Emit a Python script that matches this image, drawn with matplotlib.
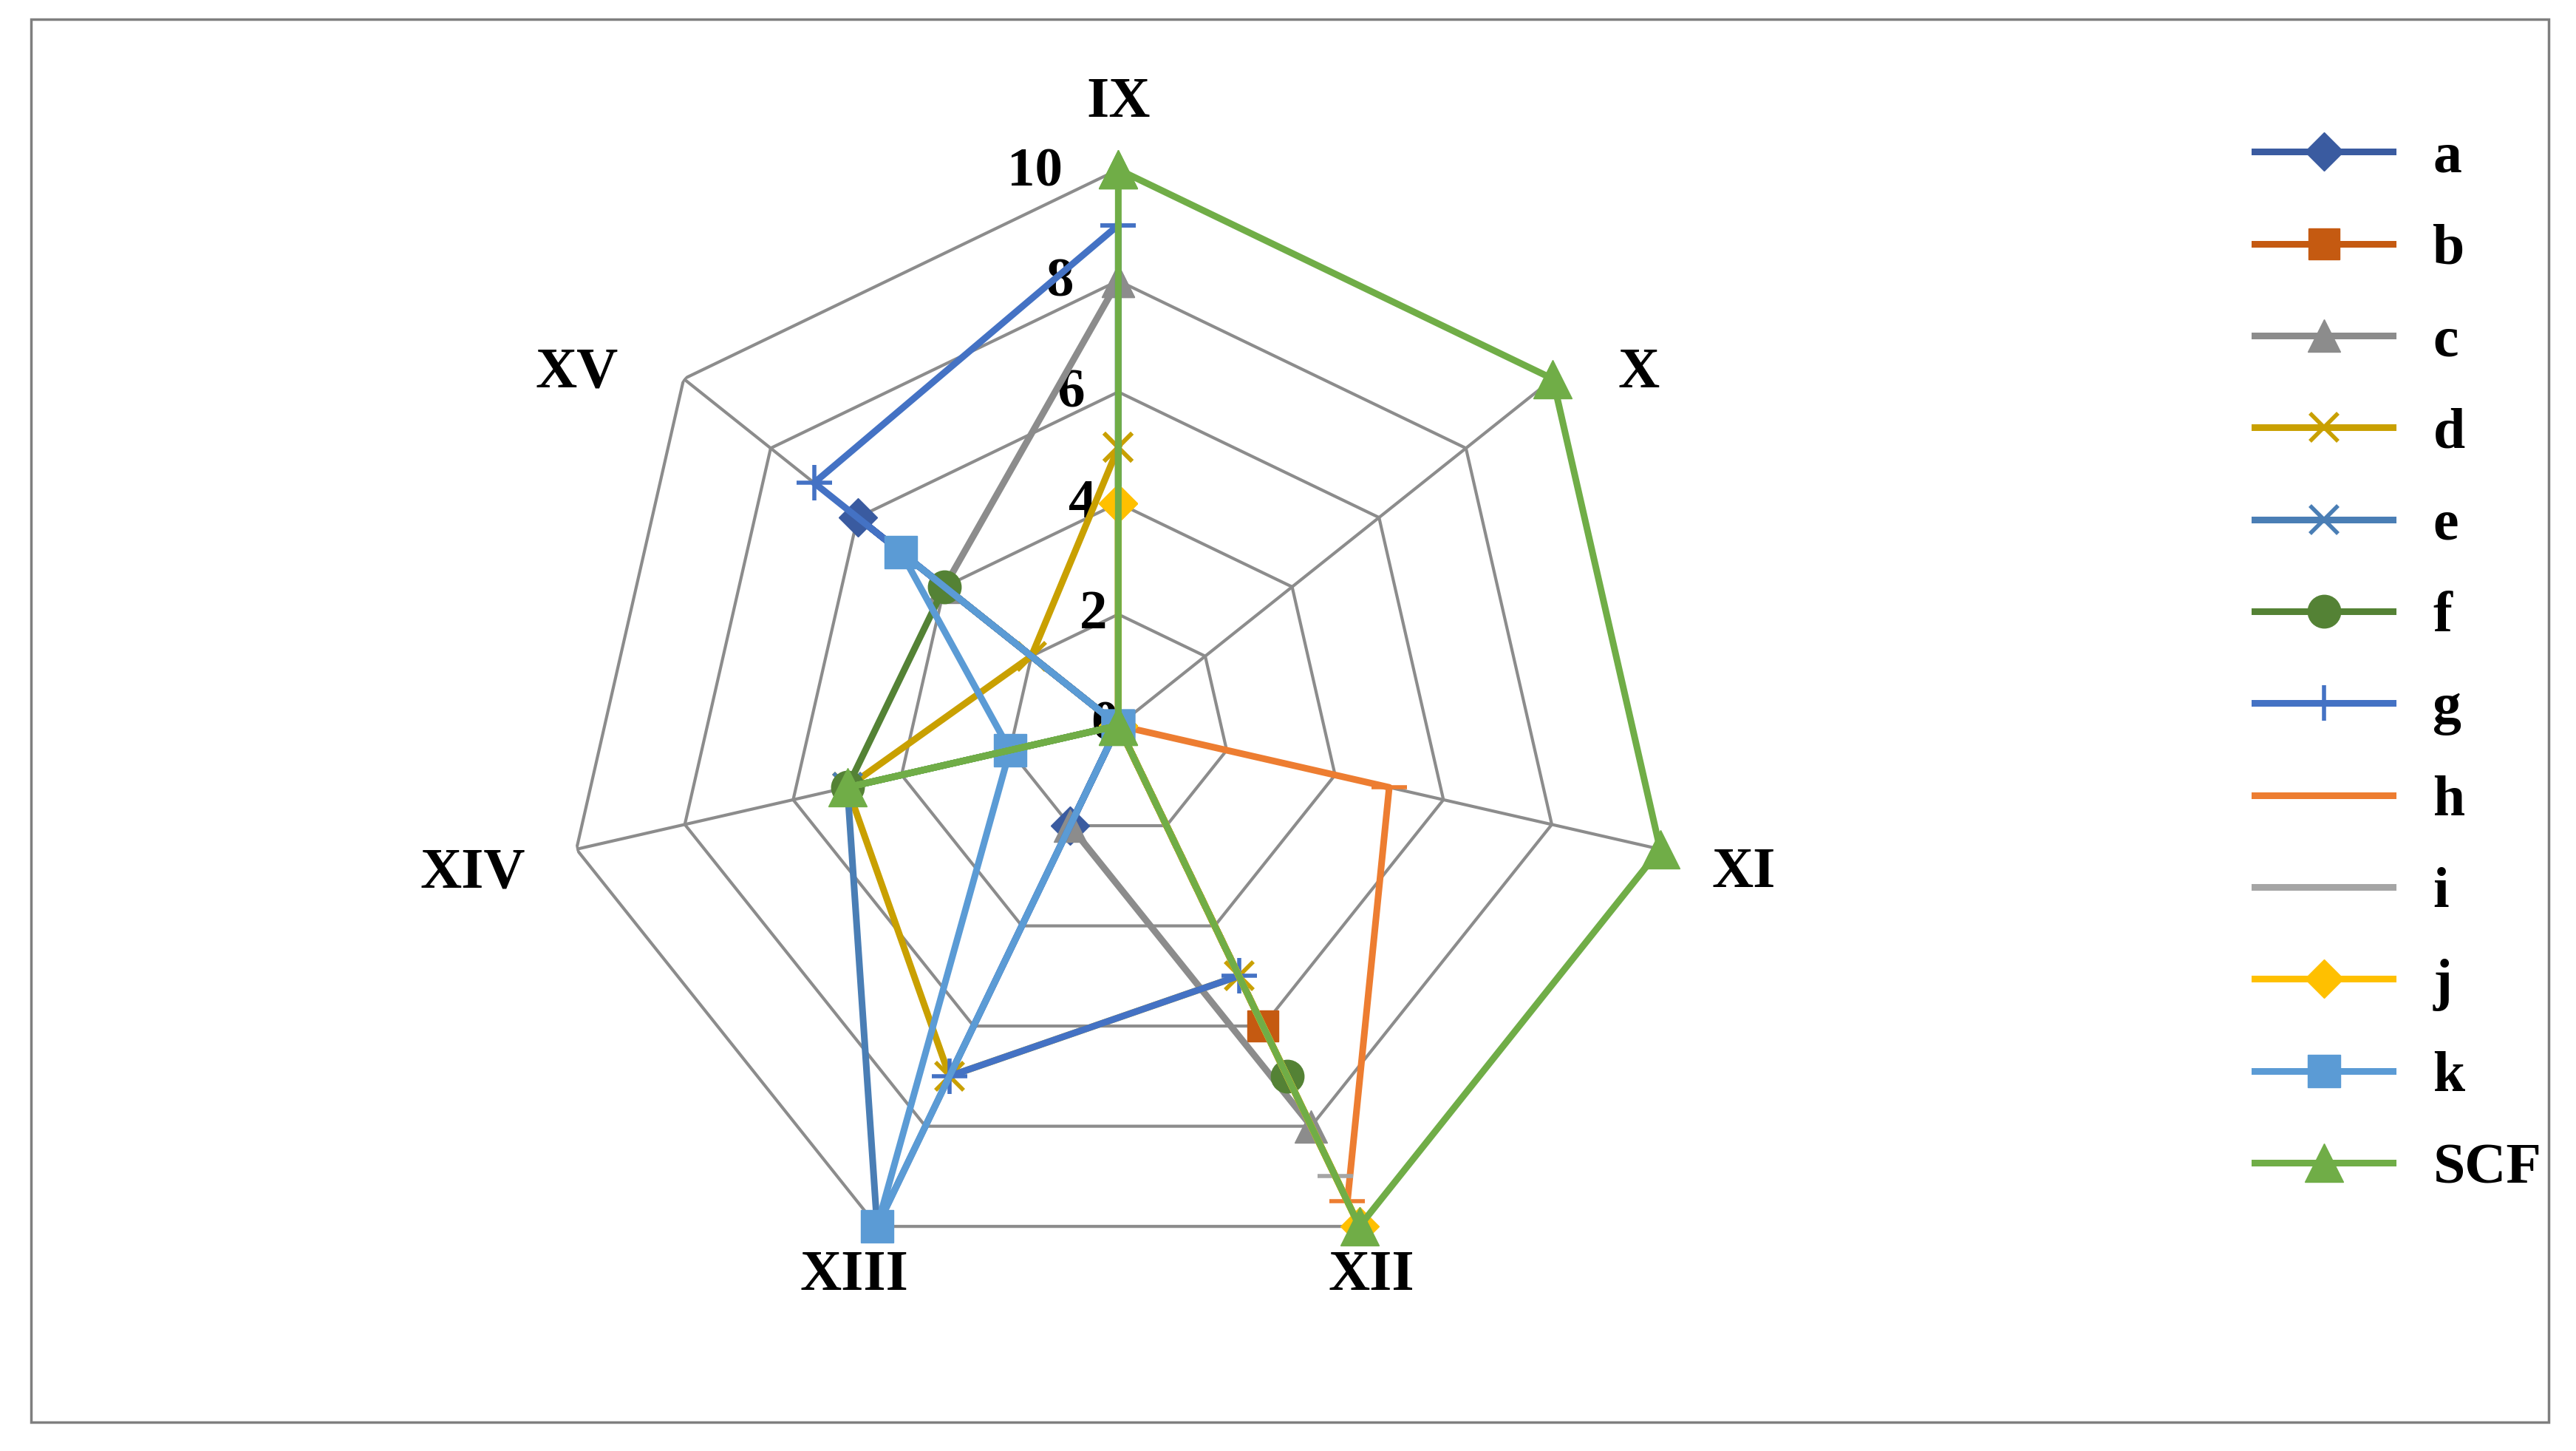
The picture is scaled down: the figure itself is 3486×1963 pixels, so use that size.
import numpy as np
import matplotlib
matplotlib.use("Agg")
import matplotlib.pyplot as plt
from matplotlib.patches import Rectangle

categories = ["IX", "X", "XI", "XII", "XIII", "XIV", "XV"]
a = [0, 0, 0, 0, 2, 0, 6]
b = [0, 0, 0, 6, 0, 0, 0]
c = [8, 0, 0, 8, 2, 0, 4]
d = [5, 0, 0, 5, 7, 5, 2]
e = [0, 0, 0, 0, 10, 5, 0]
f = [0, 0, 0, 7, 0, 5, 4]
g = [9, 0, 0, 5, 7, 0, 7]
h = [0, 0, 5, 9.5, 0, 0, 0]
i_ = [0, 0, 0, 9, 0, 0, 0]
j = [4, 0, 0, 10, 0, 0, 0]
k = [0, 0, 0, 0, 10, 2, 5]
scf = [10, 10, 10, 10, 0, 5, 0]
ticks = [0, 2, 4, 6, 8, 10]

series = [
    ("a", a, "#3A5BA0", "D", 26),
    ("b", b, "#C55A11", "s", 30),
    ("c", c, "#8C8C8C", "^", 32),
    ("d", d, "#C9A000", "x", 28),
    ("e", e, "#4A7EB5", "x", 28),
    ("f", f, "#548235", "o", 32),
    ("g", g, "#4472C4", "+", 34),
    ("h", h, "#ED7D31", "_", 34),
    ("i", i_, "#A5A5A5", "_", 34),
    ("j", j, "#FFC000", "D", 26),
    ("k", k, "#5B9BD5", "s", 32),
    ("SCF", scf, "#70AD47", "^", 38),
]

font = "Liberation Serif"
fig = plt.figure(figsize=(34.87, 19.63), dpi=100)
fig.patches.append(Rectangle((0.012, 0.02), 0.977, 0.967, transform=fig.transFigure,
                             fill=False, ec="#7F7F7F", lw=2.5))
ax = fig.add_axes([0.434 - 0.2157, 0.5 - 0.3833, 0.4314, 0.7666], projection="polar")
ax.set_theta_zero_location("N")
ax.set_theta_direction(-1)
n = len(categories)
ang = np.linspace(0, 2 * np.pi, n, endpoint=False)
angc = np.append(ang, ang[0])
ax.set_ylim(0, 10)
ax.axis("off")
for t in ticks[1:]:
    ax.plot(angc, [t] * (n + 1), color="#8C8C8C", lw=3, zorder=1)
for a_ in ang:
    ax.plot([a_, a_], [0, 10], color="#8C8C8C", lw=3, zorder=1)
for t in ticks:
    ax.text(-0.1, t, str(t), fontsize=54, fontweight="bold", family=font,
            ha="right", va="center")
offsets = {"IX": (0, 11.2, "center"), "X": (ang[1] + 0.06, 11.0, "left"),
           "XI": (ang[2] + 0.02, 11.0, "left"), "XII": (ang[3] + 0.085, 10.6, "left"),
           "XIII": (ang[4] - 0.085, 10.6, "right"), "XIV": (ang[5] - 0.02, 11.0, "right"),
           "XV": (ang[6] - 0.06, 11.0, "right")}
for lab in categories:
    th, r, ha = offsets[lab]
    ax.text(th, r, lab, fontsize=56, fontweight="bold", family=font, ha=ha, va="center")

handles = []
for name, vals, col, mk, ms in series:
    v = np.append(vals, vals[0])
    mew = 4 if mk in "x+_" else 1
    hnd, = ax.plot(angc, v, color=col, lw=6.5, marker=mk, ms=ms, mew=mew, label=name,
                   clip_on=False, zorder=3)
    handles.append(hnd)

leg = fig.legend(handles=handles, loc="upper left", bbox_to_anchor=(0.855, 0.945),
                 frameon=False, labelspacing=0.68, handlelength=2.4, handletextpad=0.7,
                 prop={"family": font, "weight": "bold", "size": 56})
fig.savefig("out.png", dpi=100)
